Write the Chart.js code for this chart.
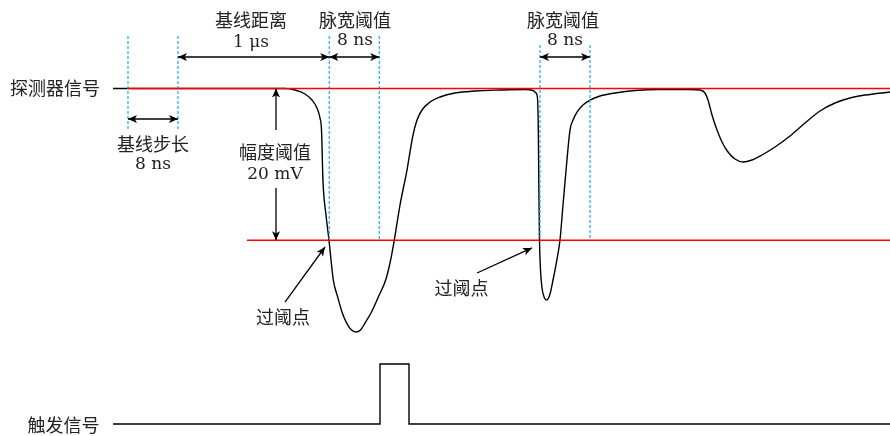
<!DOCTYPE html>
<html>
<head>
<meta charset="utf-8">
<script src="https://cdn.jsdelivr.net/npm/chart.js@4.4.1/dist/chart.umd.min.js"></script>
<style>
  html, body { margin: 0; padding: 0; background: #fff; }
  #wrap { width: 890px; height: 436px; }
</style>
</head>
<body>
<div id="wrap"><canvas id="mycanvas" width="890" height="436"></canvas></div>
<script>
// time in ns (0 = start of the baseline window), detector signal in mV
var sigT = [-2.4, 25.12, 26.72, 28.32, 29.44, 30.24, 30.72, 30.96, 31.2, 31.68, 32.16, 32.85, 33.55, 34.29, 34.99, 35.68, 36.48, 37.2, 37.92, 38.88, 40.05, 41.23, 41.92, 42.61, 43.52, 44.64, 45.6, 46.24, 47.04, 48.32, 49.92, 52.32, 55.52, 59.52, 63.52, 64.8, 65.28, 65.52, 65.65, 65.76, 65.84, 66.0, 66.24, 66.64, 67.04, 67.52, 68.0, 68.56, 69.12, 69.6, 70.16, 70.72, 71.2, 71.84, 72.8, 73.92, 75.52, 77.92, 81.12, 85.12, 89.92, 91.52, 92.32, 92.8, 93.44, 94.24, 95.04, 96.0, 97.12, 98.4, 99.84, 101.44, 103.52, 105.92, 108.32, 110.72, 113.12, 115.52, 117.92, 121.92];
var sigV = [0, 0, -0.2, -0.72, -1.52, -2.57, -3.89, -5.47, -12.25, -16.67, -20, -25.23, -27.47, -29.57, -30.9, -31.75, -32.08, -31.82, -30.9, -29.57, -27.47, -25.23, -22.99, -19.96, -15.35, -10.74, -6.13, -4.15, -2.83, -1.78, -1.12, -0.59, -0.33, -0.2, -0.13, -0.26, -0.59, -1.25, -5.47, -14.69, -19.96, -23.91, -26.28, -27.6, -27.86, -27.08, -25.23, -22.86, -19.96, -15.35, -10.08, -5.47, -4.15, -3.1, -2.17, -1.52, -0.99, -0.59, -0.26, -0.13, -0.13, -0.2, -0.59, -1.52, -3.49, -5.47, -7.05, -8.37, -9.29, -9.68, -9.42, -8.76, -7.71, -6.26, -4.55, -2.96, -1.91, -1.25, -0.86, -0.46];

// trigger signal (logic level)
var trigT = [-2.4, 40.32, 40.32, 44.96, 44.96, 121.92];
var trigL = [0, 0, 1, 1, 0, 0];

// reference levels
var baseline = 0;        // mV
var threshold = -20;     // mV
var baseStart = 0;       // ns
var thrStart = 19.04;    // ns
var tEnd = 121.92;

// dashed markers: [t, top mV, bottom mV]
var markers = [
  [0, 6.92, -5.47], [8, 6.92, -5.47],
  [32.2, 6.92, -20], [40.2, 6.92, -20],
  [65.92, 5.73, -20], [73.92, 5.73, -20]
];

// arrows: t1, v1, t2, v2, heads ('both' | 'end')
var arrows = [
  [0, -4.02, 8, -4.02, 'both'],
  [8, 4.15, 32.2, 4.15, 'both'],
  [32.2, 4.15, 40.2, 4.15, 'both'],
  [65.92, 4.15, 73.92, 4.15, 'both'],
  [23.68, -5.47, 23.68, 0, 'end'],
  [23.68, -13.1, 23.68, -20, 'end'],
  [25.12, -28.13, 31.52, -20.88, 'end'],
  [55.84, -24.31, 64.64, -21.0, 'end']
];

// text labels: text, t, mV, font kind
var labels = [
  ['探测器信号', -11.68, 0.07, 'cjk'],
  ['基线距离', 19.68, 9.02, 'cjk'],
  ['1 μs', 19.68, 5.99, 'num'],
  ['脉宽阈值', 36.32, 9.02, 'cjk'],
  ['8 ns', 36.32, 6.26, 'num'],
  ['脉宽阈值', 69.6, 9.02, 'cjk'],
  ['8 ns', 69.92, 6.26, 'num'],
  ['基线步长', 4.0, -7.31, 'cjk'],
  ['8 ns', 4.0, -10.08, 'num'],
  ['幅度阈值', 23.52, -8.37, 'cjk'],
  ['20 mV', 23.52, -11.4, 'num'],
  ['过阈点', 24.8, -30.06, 'cjk'],
  ['过阈点', 53.36, -26.25, 'cjk']
];
var trigLabel = ['触发信号', -10.32, -0.02];

function pts(xs, ys) {
  var out = [];
  for (var i = 0; i < xs.length; i++) out.push({x: xs[i], y: ys[i]});
  return out;
}

var datasets = [
  {data: [{x: baseStart, y: baseline}, {x: tEnd, y: baseline}], borderColor: '#ff0000', borderWidth: 1.5, order: 0},
  {data: [{x: thrStart, y: threshold}, {x: tEnd, y: threshold}], borderColor: '#ff0000', borderWidth: 1.5, order: 0},
  {data: pts(sigT, sigV), borderColor: '#000', borderWidth: 1.4, cubicInterpolationMode: 'monotone', order: 2},
  {data: pts(trigT, trigL), borderColor: '#000', borderWidth: 1.4, yAxisID: 'y2', order: 2}
];
markers.forEach(function (m) {
  datasets.push({data: [{x: m[0], y: m[1]}, {x: m[0], y: m[2]}], borderColor: '#1eaaf0', borderWidth: 1.2, borderDash: [3, 2], order: 1});
});

function arrowHead(ctx, x1, y1, x2, y2) {
  var a = Math.atan2(y2 - y1, x2 - x1);
  var len = 9, w = 4;
  ctx.save();
  ctx.translate(x2, y2);
  ctx.rotate(a);
  ctx.beginPath();
  ctx.moveTo(0, 0);
  ctx.lineTo(-len, -w);
  ctx.lineTo(-len * 0.75, 0);
  ctx.lineTo(-len, w);
  ctx.closePath();
  ctx.fill();
  ctx.restore();
}

var annot = {
  id: 'annot',
  afterDatasetsDraw: function (chart) {
    var ctx = chart.ctx, sx = chart.scales.x, sy = chart.scales.y, sy2 = chart.scales.y2;
    ctx.save();
    ctx.strokeStyle = '#000';
    ctx.fillStyle = '#000';
    ctx.lineWidth = 1.3;
    arrows.forEach(function (a) {
      var x1 = sx.getPixelForValue(a[0]), y1 = sy.getPixelForValue(a[1]);
      var x2 = sx.getPixelForValue(a[2]), y2 = sy.getPixelForValue(a[3]);
      ctx.beginPath();
      ctx.moveTo(x1, y1);
      ctx.lineTo(x2, y2);
      ctx.stroke();
      arrowHead(ctx, x1, y1, x2, y2);
      if (a[4] === 'both') arrowHead(ctx, x2, y2, x1, y1);
    });
    ctx.textAlign = 'center';
    ctx.textBaseline = 'middle';
    ctx.fillStyle = '#222';
    labels.forEach(function (l) {
      ctx.font = l[3] === 'cjk' ? '18px "Noto Sans CJK SC"' : '17px "DejaVu Serif"';
      ctx.fillText(l[0], sx.getPixelForValue(l[1]), sy.getPixelForValue(l[2]));
    });
    ctx.font = '18px "Noto Sans CJK SC"';
    ctx.fillText(trigLabel[0], sx.getPixelForValue(trigLabel[1]), sy2.getPixelForValue(trigLabel[2]));
    ctx.restore();
  }
};

var chart = new Chart(document.getElementById('mycanvas'), {
  type: 'scatter',
  data: {datasets: datasets},
  options: {
    responsive: false,
    animation: false,
    layout: {padding: 0},
    showLine: true,
    elements: {point: {radius: 0, hoverRadius: 0}, line: {fill: false}},
    plugins: {legend: {display: false}, tooltip: {enabled: false}},
    scales: {
      x: {type: 'linear', display: false, min: -20.48, max: 121.92},
      y: {type: 'linear', display: false, min: -45.78, max: 11.66},
      y2: {type: 'linear', display: false, min: -0.2, max: 7.0667}
    }
  },
  plugins: [annot]
});
</script>
</body>
</html>
